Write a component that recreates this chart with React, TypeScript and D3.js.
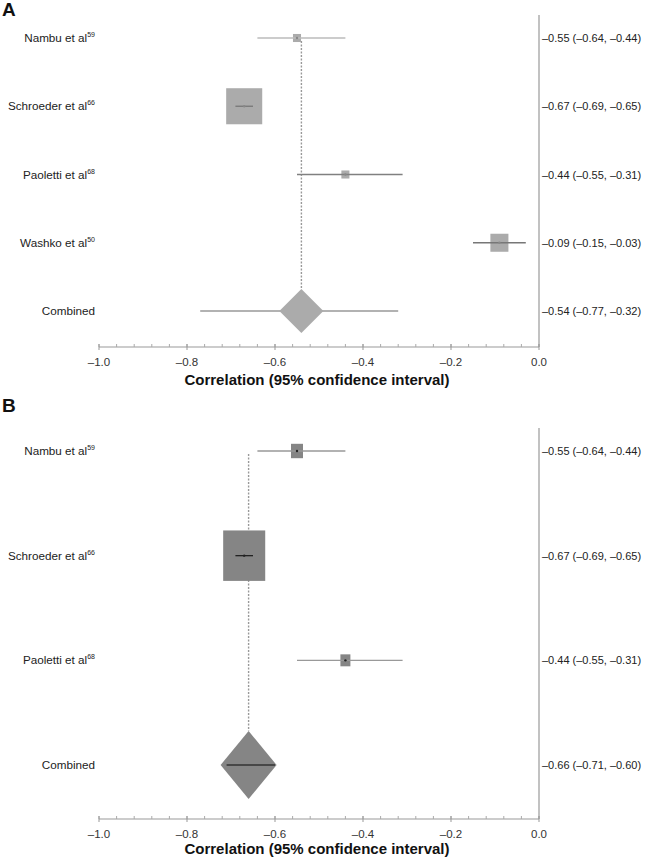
import React from 'react';
import * as d3 from 'd3';

// panel A data
const studiesA = ['Nambu et al', 'Schroeder et al', 'Paoletti et al', 'Washko et al'];
const refsA = ['59', '66', '68', '50'];
const estA = [-0.55, -0.67, -0.44, -0.09];
const lowA = [-0.64, -0.69, -0.55, -0.15];
const highA = [-0.44, -0.65, -0.31, -0.03];
const weightA = [2, 40, 2, 10];
const combinedA = [-0.54, -0.77, -0.32];

// panel B data
const studiesB = ['Nambu et al', 'Schroeder et al', 'Paoletti et al'];
const refsB = ['59', '66', '68'];
const estB = [-0.55, -0.67, -0.44];
const lowB = [-0.64, -0.69, -0.55];
const highB = [-0.44, -0.65, -0.31];
const weightB = [6.5, 80, 4.5];
const combinedB = [-0.66, -0.71, -0.60];

const majorTicks = [-1.0, -0.8, -0.6, -0.4, -0.2, 0.0];
const minorStep = 0.04;
const axisTitle = 'Correlation (95% confidence interval)';

const FONT = '"Liberation Sans", Arial, sans-serif';

const fmt = (v: number, d = 2) => (v < 0 ? '\u2013' + Math.abs(v).toFixed(d) : v.toFixed(d));

type PanelProps = {
  letter: string;
  top: number;
  rowTop: number;
  rowBottom: number;
  axisY: number;
  titleDy: number;
  studies: string[];
  refs: string[];
  est: number[];
  low: number[];
  high: number[];
  weight: number[];
  combined: number[];
  boxK: number;
  boxAspect: number;
  fill: string;
  ciColor: string[];
  dot: string;
  diamondW: number;
  diamondH: number;
  combLine: string;
  innerLine: boolean;
};

function Panel(p: PanelProps) {
  const x = d3.scaleLinear().domain([-1, 0]).range([99, 539]);
  const labels = [...p.studies, 'Combined'];
  const y = d3.scalePoint<string>().domain(labels).range([p.rowTop, p.rowBottom]);
  const size = (w: number) => p.boxK * Math.sqrt(w);
  const minor = d3.range(0, Math.round(1 / minorStep) + 1).map(i => -1 + i * minorStep);
  const cy = y('Combined')!;
  const cx = x(p.combined[0]);
  const diamond = d3.line()([
    [cx, cy - p.diamondH],
    [cx + p.diamondW, cy],
    [cx, cy + p.diamondH],
    [cx - p.diamondW, cy],
  ]) + 'Z';

  return (
    <g fontFamily={FONT}>
      <text x={2} y={p.top + 16} fontSize={19} fontWeight="bold" fill="#111">{p.letter}</text>
      {/* right border */}
      <line x1={x(0)} x2={x(0)} y1={p.rowTop - 23} y2={p.axisY} stroke="#999" strokeWidth={1.2} />
      {/* reference dashed line */}
      <line x1={cx} x2={cx} y1={y(labels[0])! + 3} y2={cy - p.diamondH} stroke="#999" strokeWidth={1.4} strokeDasharray="2,1.5" />
      {p.studies.map((s, i) => {
        const yy = y(s)!;
        const w = size(p.weight[i]);
        const h = w * p.boxAspect;
        return (
          <g key={s}>
            <rect x={x(p.est[i]) - w / 2} y={yy - h / 2} width={w} height={h} fill={p.fill} />
            <line x1={x(p.low[i])} x2={x(p.high[i])} y1={yy} y2={yy} stroke={p.ciColor[i]} strokeWidth={1.3} />
            <circle cx={x(p.est[i])} cy={yy} r={1.2} fill={p.dot} />
          </g>
        );
      })}
      <line x1={x(p.combined[1])} x2={x(p.combined[2])} y1={cy} y2={cy} stroke="#999" strokeWidth={1.3} />
      <path d={diamond} fill={p.fill} />
      {p.innerLine && (
        <line x1={x(p.combined[1])} x2={x(p.combined[2])} y1={cy} y2={cy} stroke={p.combLine} strokeWidth={1.5} />
      )}
      {labels.map(s => {
        const i = p.studies.indexOf(s);
        return (
          <text key={s} x={95} y={y(s)! + 4} fontSize={11.7} textAnchor="end" fill="#222">
            {s}
            {i >= 0 && <tspan fontSize={7} dy={-5}>{p.refs[i]}</tspan>}
          </text>
        );
      })}
      {labels.map((s, k) => {
        const i = p.studies.indexOf(s);
        const e = i >= 0 ? p.est[i] : p.combined[0];
        const l = i >= 0 ? p.low[i] : p.combined[1];
        const h = i >= 0 ? p.high[i] : p.combined[2];
        return (
          <text key={'r' + k} x={542} y={y(s)! + 4} fontSize={11} fill="#222">
            {`${fmt(e)} (${fmt(l)}, ${fmt(h)})`}
          </text>
        );
      })}
      {/* x axis */}
      <line x1={x(-1)} x2={x(0)} y1={p.axisY} y2={p.axisY} stroke="#999" strokeWidth={1.2} />
      {minor.map((t, i) => (
        <line key={'m' + i} x1={x(t)} x2={x(t)} y1={p.axisY - 3} y2={p.axisY} stroke="#aaa" strokeWidth={1} />
      ))}
      {majorTicks.map(t => (
        <g key={'t' + t}>
          <line x1={x(t)} x2={x(t)} y1={p.axisY - 3} y2={p.axisY + 3} stroke="#999" strokeWidth={1} />
          <text x={x(t)} y={p.axisY + 19} fontSize={11.5} textAnchor="middle" fill="#333">{fmt(t, 1)}</text>
        </g>
      ))}
      <text x={317} y={p.axisY + p.titleDy} fontSize={15} fontWeight="bold" textAnchor="middle" fill="#111">{axisTitle}</text>
    </g>
  );
}

export default function App() {
  return (
    <svg width={646} height={857} style={{ position: 'absolute', left: 0, top: 0, background: '#fff' }}>
      <Panel
        letter="A" top={0} rowTop={38} rowBottom={311} axisY={347} titleDy={38}
        studies={studiesA} refs={refsA} est={estA} low={lowA} high={highA} weight={weightA}
        combined={combinedA} boxK={5.7} boxAspect={1} fill="#ababab"
        ciColor={['#bbbbbb', '#777777', '#808080', '#777777']} dot="#888"
        diamondW={22} diamondH={22} combLine="#999" innerLine={false}
      />
      <Panel
        letter="B" top={396} rowTop={451} rowBottom={765} axisY={819} titleDy={35}
        studies={studiesB} refs={refsB} est={estB} low={lowB} high={highB} weight={weightB}
        combined={combinedB} boxK={4.7} boxAspect={1.2} fill="#858585"
        ciColor={['#999999', '#222222', '#999999']} dot="#222"
        diamondW={28} diamondH={34} combLine="#333" innerLine={true}
      />
    </svg>
  );
}
